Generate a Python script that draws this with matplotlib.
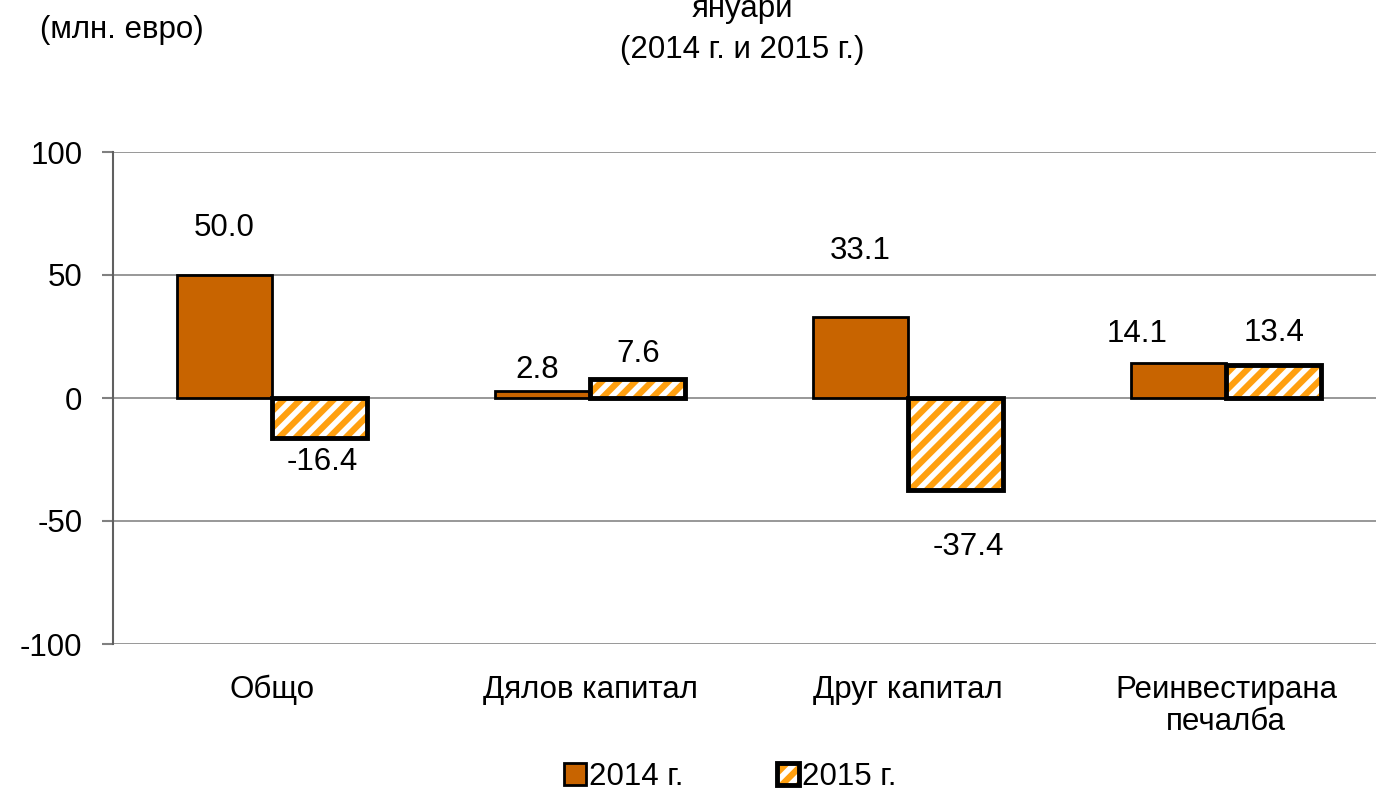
import matplotlib.pyplot as plt
from matplotlib.patches import Patch
import numpy as np

plt.rcParams['font.family'] = ['Liberation Sans', 'DejaVu Sans']
plt.rcParams['hatch.linewidth'] = 4.5
plt.rcParams['axes.unicode_minus'] = False

categories = ['Общо', 'Дялов капитал', 'Друг капитал', 'Реинвестирана\nпечалба']
vals_2014 = [50.0, 2.8, 33.1, 14.1]
vals_2015 = [-16.4, 7.6, -37.4, 13.4]
series_names = ['2014 г.', '2015 г.']
# label offsets in points (hand-placed in the original)
off_2014 = [(0, 34), (-4, 15), (0, 47), (-30, 21)]
off_2015 = [(2, -17), (0, 18), (9, -41), (0, 23)]

c2014 = '#C86400'
c2015 = '#FFA010'
fs = 22.5

fig = plt.figure(figsize=(13.76, 7.94), dpi=100)
ax = fig.add_axes([113/1376, 1-644/794, 4*318/1376, (644-152)/794])

x = np.arange(len(categories))
w = 0.3
b1 = ax.bar(x - w/2, vals_2014, w, color=c2014, edgecolor='black', linewidth=2, zorder=3)
ax.bar(x + w/2, vals_2015, w, color='white', edgecolor=c2015, hatch='//', linewidth=0, zorder=3)
b2 = ax.bar(x + w/2, vals_2015, w, fill=False, edgecolor='black', linewidth=3.5, zorder=4)

for bar, v, off in zip(b1, vals_2014, off_2014):
    ax.annotate(f'{v:.1f}', (bar.get_x() + bar.get_width()/2, v), xytext=off,
                textcoords='offset points', ha='center', va='center', fontsize=fs)
for bar, v, off in zip(b2, vals_2015, off_2015):
    ax.annotate(f'{v:.1f}', (bar.get_x() + bar.get_width()/2, v), xytext=off,
                textcoords='offset points', ha='center', va='center', fontsize=fs)

ax.set_xlim(-0.5, 3.5)
ax.set_ylim(-100, 100)
ax.set_yticks([-100, -50, 0, 50, 100])
ax.set_xticks(x)
ax.set_xticklabels(categories, fontsize=fs, linespacing=1.1)
ax.tick_params(axis='x', length=0, pad=22)
ax.tick_params(axis='y', labelsize=fs, length=8, width=1.5, color='#808080', pad=14)
ax.grid(axis='y', color='#909090', linewidth=1.3, zorder=0)
for s in ['top', 'right', 'bottom']:
    ax.spines[s].set_visible(False)
ax.spines['left'].set_color('#606060')
ax.spines['left'].set_linewidth(1.5)

fig.text(40/1376, 1-30/794, '(млн. евро)', fontsize=fs, va='center', ha='left')
fig.text(742/1376, 1-9/794, 'януари', fontsize=fs, va='center', ha='center')
fig.text(742/1376, 1-50/794, '(2014 г. и 2015 г.)', fontsize=fs, va='center', ha='center')

h1 = Patch(facecolor=c2014, edgecolor='black', linewidth=2)
h2a = Patch(facecolor='white', edgecolor=c2015, hatch='//', linewidth=0)
h2b = Patch(fill=False, edgecolor='black', linewidth=3.5)
fig.legend([h1, (h2a, h2b)], series_names, loc='center', bbox_to_anchor=(730/1376, 1-777/794),
           ncol=2, frameon=False, fontsize=fs, handlelength=0.7, handleheight=0.7,
           handletextpad=0.1, columnspacing=3.0)

fig.savefig('out.png', dpi=100)
